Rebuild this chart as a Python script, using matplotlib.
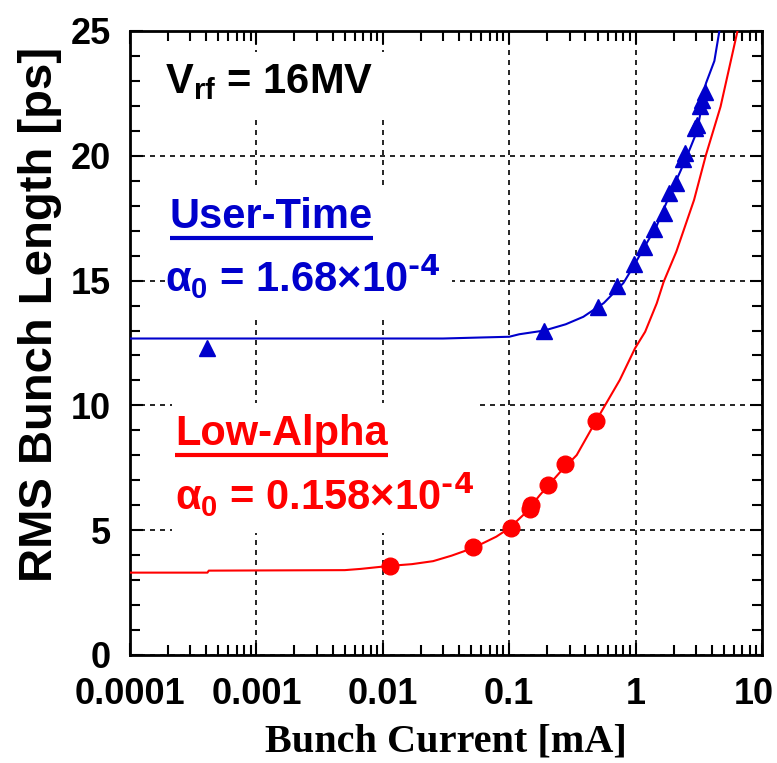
import matplotlib
matplotlib.use("Agg")
import matplotlib.pyplot as plt
import matplotlib.transforms as mtransforms
from matplotlib.patches import Rectangle

# fitted curves
blue_line_x = [0.0001, 0.001, 0.01, 0.03, 0.059, 0.1, 0.12, 0.19, 0.28, 0.386, 0.56, 0.8, 0.97,
               1.16, 1.47, 1.85, 2.27, 2.7, 3.07, 3.6, 4.2, 4.6]
blue_line_y = [12.68, 12.68, 12.68, 12.68, 12.72, 12.75, 12.85, 13.0, 13.25, 13.55, 14.1, 14.9, 15.6,
               16.3, 17.2, 18.4, 19.4, 20.3, 21.0, 22.9, 23.8, 25.0]

red_line_x = [0.0001, 0.00041, 0.00042, 0.005, 0.0067, 0.0113, 0.017, 0.025, 0.035, 0.052, 0.079,
              0.1, 0.135, 0.175, 0.25, 0.342, 0.49, 0.75, 0.99, 1.19, 1.47, 1.67, 2.1, 2.9, 3.6,
              4.7, 6.4]
red_line_y = [3.30, 3.30, 3.38, 3.40, 3.45, 3.57, 3.64, 3.76, 3.98, 4.29, 4.74,
              5.08, 5.7, 6.41, 7.3, 8.01, 9.41, 11.02, 12.29, 12.95, 14.09, 14.96, 16.16, 18.23, 20.03,
              21.97, 25.0]

# measurements
user_x = [0.00041, 0.19, 0.50, 0.71, 0.98, 1.16, 1.39, 1.67, 1.85, 2.07, 2.38, 2.48, 2.94,
          3.07, 3.22, 3.36, 3.57]
user_y = [12.3, 12.98, 13.95, 14.78, 15.65, 16.36, 17.06, 17.70, 18.52, 18.9, 19.86, 20.1, 21.1,
          21.23, 22.0, 22.24, 22.57]

low_x = [0.0113, 0.052, 0.103, 0.145, 0.15, 0.201, 0.277, 0.487]
low_y = [3.57, 4.34, 5.08, 5.85, 6.0, 6.81, 7.64, 9.39]

xticks = [0.0001, 0.001, 0.01, 0.1, 1, 10]
xticklabels = ["0.0001", "0.001", "0.01", "0.1", "1", "10"]
yticks = [0, 5, 10, 15, 20, 25]

blue = "#0000CC"
red = "#FF0000"

plt.rcParams["font.family"] = ["Liberation Sans", "DejaVu Sans"]
plt.rcParams["font.weight"] = "bold"
plt.rcParams["mathtext.default"] = "regular"

fig = plt.figure(figsize=(7.77, 7.63), dpi=100)
ax = fig.add_axes([130 / 777, 108 / 763, 632 / 777, 624 / 763])

ax.set_xscale("log")
ax.set_xlim(0.0001, 10)
ax.set_ylim(0, 25)
ax.set_axisbelow(True)
ax.grid(True, which="major", color="black", linestyle=(0, (3, 3)), linewidth=1.2)

ax.plot(blue_line_x, blue_line_y, color=blue, lw=1.5, zorder=3)
ax.plot(red_line_x, red_line_y, color=red, lw=1.5, zorder=3)
ax.plot(user_x, user_y, "^", color=blue, ms=11, mec=blue, ls="none", zorder=4)
ax.plot(low_x, low_y, "o", color=red, ms=12, mec=red, ls="none", zorder=4)

ax.set_xticks(xticks)
ax.set_xticklabels(xticklabels, fontsize=26, fontweight="bold")
ax.set_yticks(yticks)
ax.set_yticks(range(0, 26), minor=True)
ax.tick_params(which="both", direction="in", top=True, right=True, width=1.5)
ax.tick_params(which="major", length=9)
ax.tick_params(which="minor", length=7)
ax.tick_params(axis="y", labelsize=26, pad=14)
ax.tick_params(axis="x", pad=16)
for lab in ax.get_yticklabels():
    lab.set_fontweight("bold")
# last x label sits a bit to the left so it stays inside the figure
last = ax.get_xticklabels()[-1]
last.set_transform(last.get_transform() + mtransforms.ScaledTranslation(-8 / 100, 0, fig.dpi_scale_trans))
for s in ax.spines.values():
    s.set_linewidth(2)

ax.set_ylabel("RMS Bunch Length [ps]", fontsize=34, fontweight="bold")
ax.yaxis.set_label_coords(-0.108, 0.545)
ax.set_xlabel("Bunch Current [mA]", fontsize=29, fontweight="bold",
              family=["Liberation Serif", "DejaVu Serif"], labelpad=8)

# white boxes that hide the grid behind the annotations
for (x0, y0, w, h) in [(0.032, 0.8606, 0.395, 0.1058), (0.0554, 0.540, 0.454, 0.2083),
                       (0.0665, 0.1955, 0.484, 0.2083)]:
    ax.add_patch(Rectangle((x0, y0), w, h, transform=ax.transAxes, facecolor="white",
                           edgecolor="none", zorder=1))

fs = 30
ax.text(0.055, 0.9006, r"V$_{rf}$ = 16MV", transform=ax.transAxes, fontsize=fs,
        fontweight="bold", color="black", va="baseline", zorder=5)
t1 = ax.text(0.063, 0.684, "User-Time", transform=ax.transAxes, fontsize=fs,
             fontweight="bold", color=blue, va="baseline", zorder=5)
ax.text(0.055, 0.5817, r"$\alpha_0$ = 1.68×10$^{\text{-4}}$", transform=ax.transAxes, fontsize=fs,
        fontweight="bold", color=blue, va="baseline", zorder=5)
t2 = ax.text(0.071, 0.3365, "Low-Alpha", transform=ax.transAxes, fontsize=fs,
             fontweight="bold", color=red, va="baseline", zorder=5)
ax.text(0.071, 0.2324, r"$\alpha_0$ = 0.158×10$^{\text{-4}}$", transform=ax.transAxes, fontsize=fs,
        fontweight="bold", color=red, va="baseline", zorder=5)

# underline the two titles
fig.canvas.draw()
inv = ax.transAxes.inverted()
for t, yb, c in [(t1, 0.684, blue), (t2, 0.3365, red)]:
    bb = t.get_window_extent()
    (xa, _), (xb, _) = inv.transform([(bb.x0, bb.y0), (bb.x1, bb.y0)])
    ax.plot([xa, xb], [yb - 10 / 624, yb - 10 / 624], transform=ax.transAxes,
            color=c, lw=3, solid_capstyle="butt", zorder=5)

fig.savefig("out.png", dpi=100)
